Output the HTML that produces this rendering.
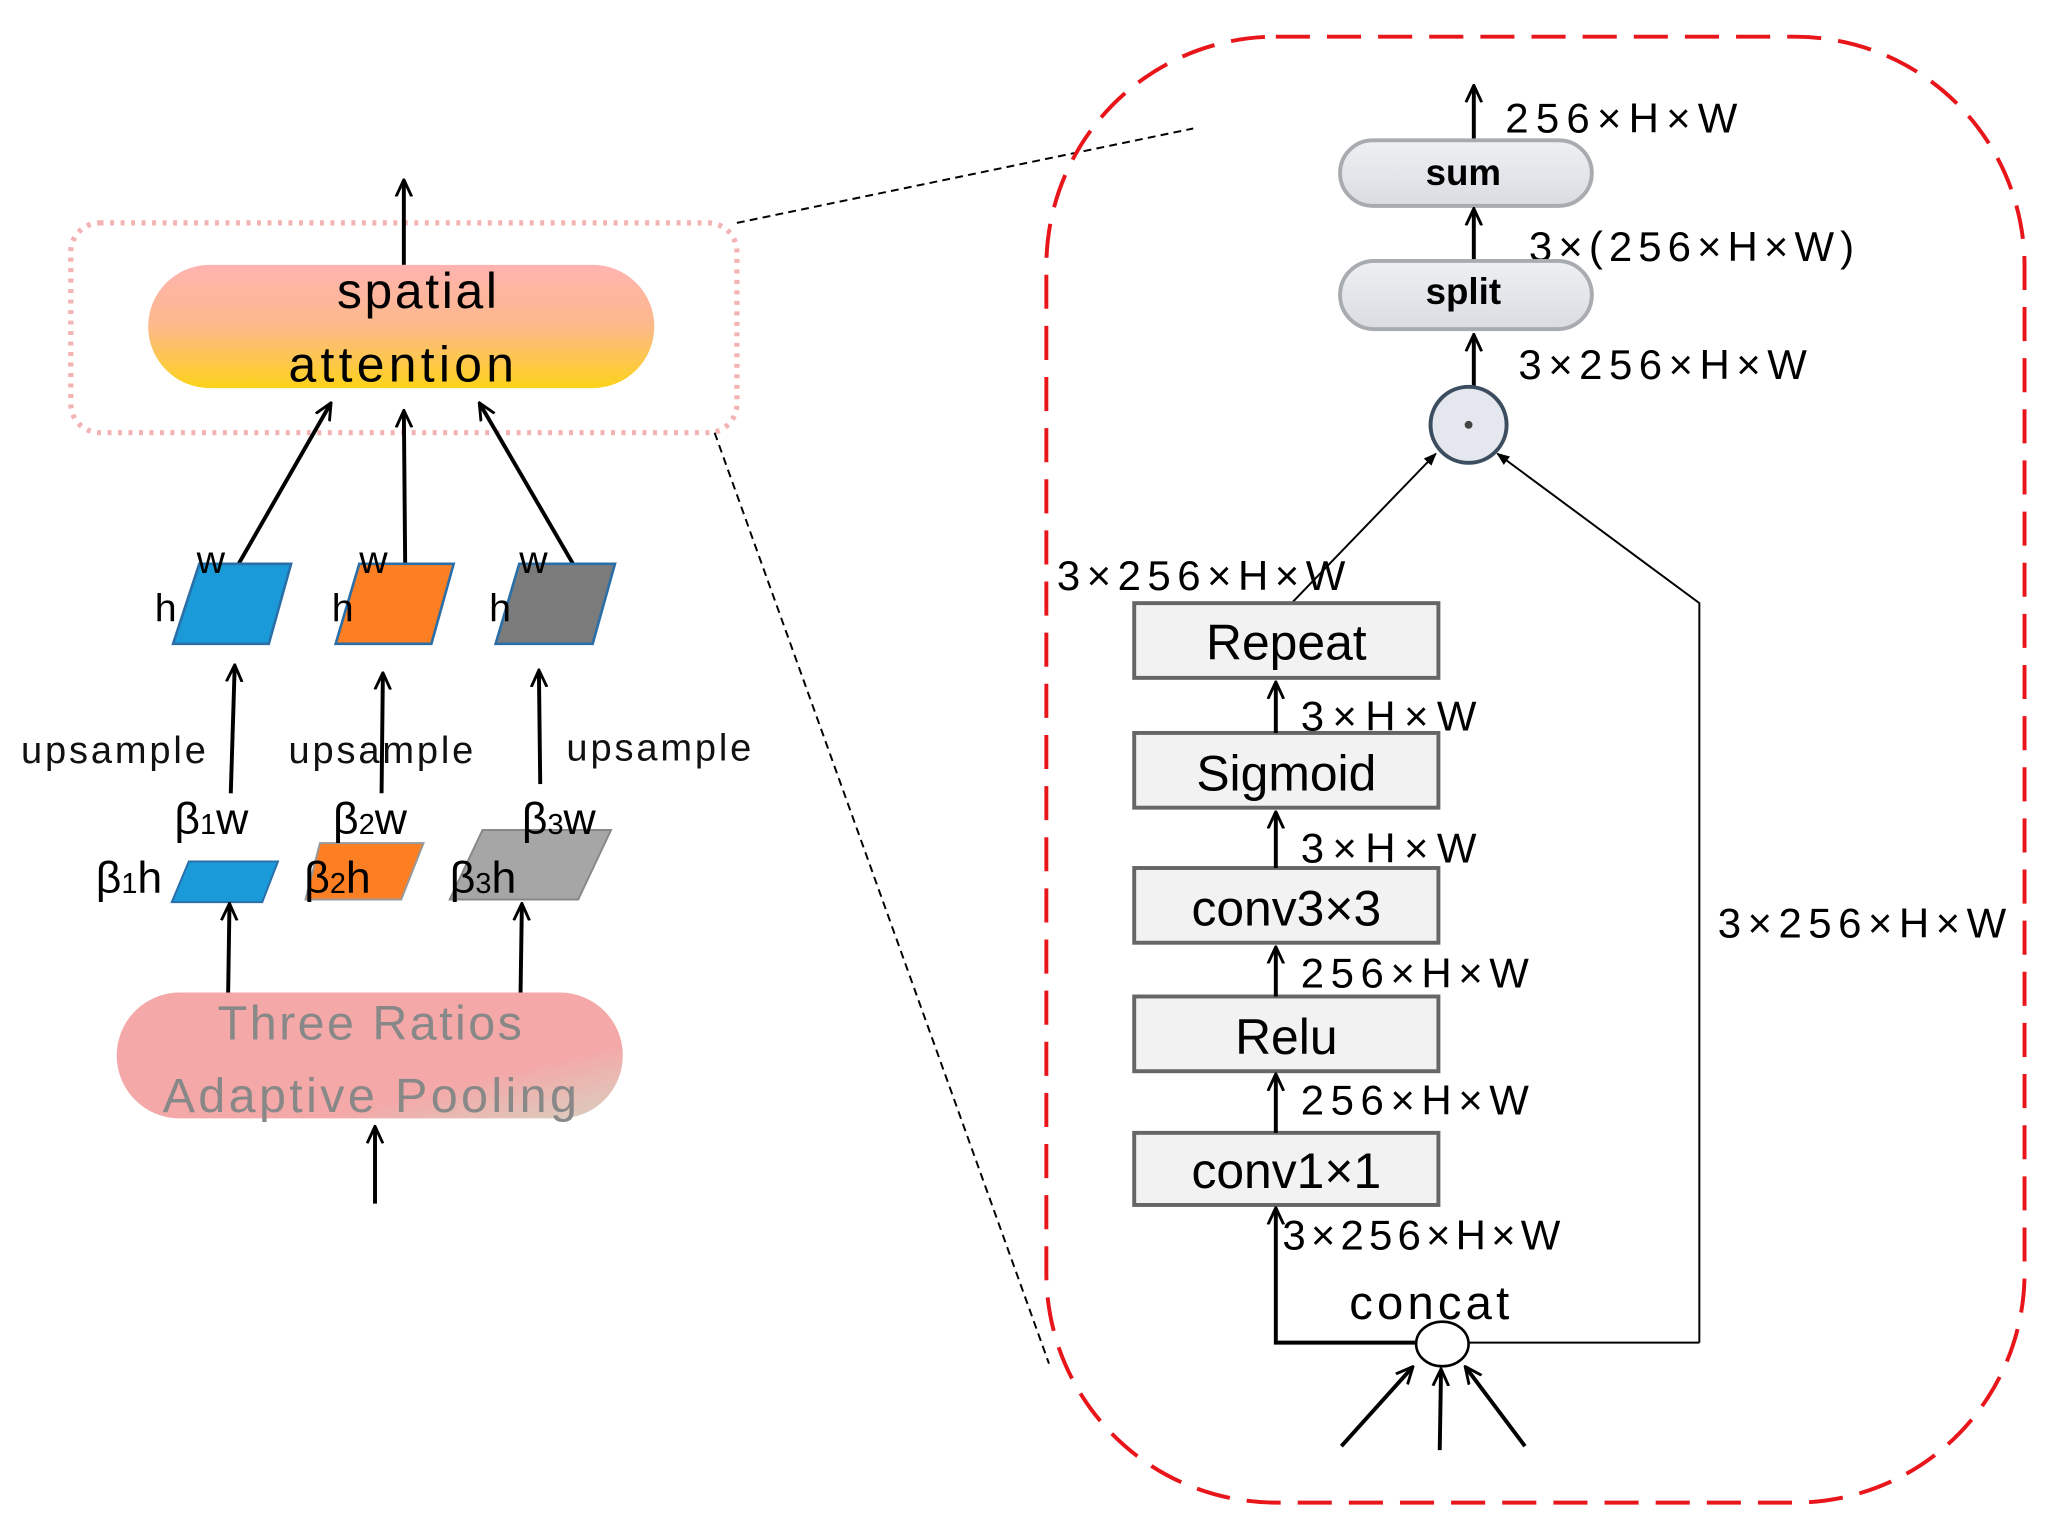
<!DOCTYPE html>
<html><head><style>html,body{margin:0;padding:0;background:#fff}svg{display:block}text{font-family:"Liberation Sans","DejaVu Sans",sans-serif}</style></head>
<body>
<svg width="2056" height="1538" viewBox="0 0 1568 1173" preserveAspectRatio="none" xmlns="http://www.w3.org/2000/svg">
<defs>
<marker id="b" markerWidth="14" markerHeight="14" refX="12" refY="7" orient="auto" markerUnits="userSpaceOnUse" viewBox="0 0 14 14"><path d="M0,1 L13,7 L0,13" fill="none" stroke="#000" stroke-width="2.2"/></marker>
<marker id="f" markerWidth="10" markerHeight="10" refX="9" refY="5" orient="auto" markerUnits="userSpaceOnUse" viewBox="0 0 10 10"><path d="M0,1 L10,5 L0,9 Z" fill="#000"/></marker>
<linearGradient id="g1" x1="0" y1="0" x2="0" y2="1"><stop offset="0" stop-color="#ffb3b0"/><stop offset="0.5" stop-color="#fcb98a"/><stop offset="1" stop-color="#fdd21a"/></linearGradient>
<linearGradient id="g2" x1="0" y1="0" x2="1" y2="1"><stop offset="0.7" stop-color="#f4a8a8"/><stop offset="1" stop-color="#d9d0c0"/></linearGradient>
<linearGradient id="g3" x1="0" y1="0" x2="0" y2="1"><stop offset="0" stop-color="#eef0f3"/><stop offset="1" stop-color="#d9dce1"/></linearGradient>
</defs>
<!-- left -->
<rect x="54" y="170" width="508" height="160" rx="22" fill="none" stroke="#f4b2b2" stroke-width="4" stroke-dasharray="3,5"/>
<line x1="308" y1="202" x2="308" y2="138" stroke="#000" stroke-width="3" marker-end="url(#b)"/>
<rect x="113" y="202" width="386" height="94" rx="47" fill="url(#g1)"/>
<text x="318" y="235" font-size="38" text-anchor="middle" textLength="122">spatial</text>
<text x="306" y="291" font-size="38" text-anchor="middle" textLength="172">attention</text>
<line x1="182" y1="430" x2="252" y2="308" stroke="#000" stroke-width="3" marker-end="url(#b)"/>
<line x1="309" y1="430" x2="308" y2="314" stroke="#000" stroke-width="3" marker-end="url(#b)"/>
<line x1="437" y1="430" x2="366" y2="308" stroke="#000" stroke-width="3" marker-end="url(#b)"/>
<polygon points="152,430 222,430 205,491 132,491" fill="#1a9ad8" stroke="#2a6fa8" stroke-width="2"/>
<polygon points="274,430 346,430 329,491 256,491" fill="#fc7f23" stroke="#2a6fa8" stroke-width="2"/>
<polygon points="396,430 469,430 452,491 378,491" fill="#7b7b7b" stroke="#2a6fa8" stroke-width="2"/>
<g font-size="30"><text x="150" y="437">w</text><text x="118" y="474">h</text><text x="274" y="437">w</text><text x="253" y="474">h</text><text x="396" y="437">w</text><text x="373" y="474">h</text></g>
<line x1="176" y1="605" x2="179" y2="508" stroke="#000" stroke-width="3" marker-end="url(#b)"/>
<line x1="291" y1="605" x2="292" y2="514" stroke="#000" stroke-width="3" marker-end="url(#b)"/>
<line x1="412" y1="598" x2="411" y2="512" stroke="#000" stroke-width="3" marker-end="url(#b)"/>
<g font-size="29" fill="#111"><text x="16" y="582" textLength="141">upsample</text><text x="220" y="582" textLength="141">upsample</text><text x="432" y="580" textLength="141">upsample</text></g>
<polygon points="144,657 212,657 200,688 131,688" fill="#1a9ad8" stroke="#2a6fa8" stroke-width="1.5"/>
<polygon points="244,643 323,643 306,686 233,686" fill="#fc7f23" stroke="#999" stroke-width="1.5"/>
<polygon points="368,633 466,633 441,686 343,686" fill="#a6a6a6" stroke="#888" stroke-width="1.5"/>
<g font-size="34"><text x="133" y="636">β<tspan font-size="22">1</tspan>w</text><text x="73" y="681">β<tspan font-size="22">1</tspan>h</text>
<text x="254" y="636">β<tspan font-size="22">2</tspan>w</text><text x="232" y="681">β<tspan font-size="22">2</tspan>h</text>
<text x="398" y="636">β<tspan font-size="22">3</tspan>w</text><text x="343" y="681">β<tspan font-size="22">3</tspan>h</text></g>
<line x1="174" y1="757" x2="175" y2="690" stroke="#000" stroke-width="3" marker-end="url(#b)"/>
<line x1="397" y1="757" x2="398" y2="690" stroke="#000" stroke-width="3" marker-end="url(#b)"/>
<rect x="89" y="757" width="386" height="96" rx="48" fill="url(#g2)"/>
<text x="282" y="793" font-size="37" fill="#888" text-anchor="middle" textLength="232">Three Ratios</text>
<text x="282" y="848" font-size="37" fill="#888" text-anchor="middle" textLength="316">Adaptive Pooling</text>
<line x1="286" y1="918" x2="286" y2="860" stroke="#000" stroke-width="3" marker-end="url(#b)"/>
<!-- dashed zoom lines -->
<line x1="562" y1="170" x2="910" y2="98" stroke="#000" stroke-width="1.5" stroke-dasharray="6,4"/>
<line x1="545" y1="330" x2="800" y2="1040" stroke="#000" stroke-width="1.5" stroke-dasharray="6,4"/>
<!-- right red box -->
<rect x="798" y="28" width="746" height="1118" rx="175" fill="none" stroke="#e8161b" stroke-width="3" stroke-dasharray="26,13"/>
<line x1="1124" y1="106" x2="1124" y2="66" stroke="#000" stroke-width="3" marker-end="url(#b)"/>
<text x="1148" y="101" font-size="32" textLength="177">256×H×W</text>
<rect x="1022" y="107" width="192" height="50" rx="25" fill="url(#g3)" stroke="#a8abb0" stroke-width="3"/>
<text x="1116" y="141" font-size="28" font-weight="bold" text-anchor="middle">sum</text>
<line x1="1124" y1="199" x2="1124" y2="160" stroke="#000" stroke-width="3" marker-end="url(#b)"/>
<text x="1166" y="199" font-size="32" textLength="248">3×(256×H×W)</text>
<rect x="1022" y="199" width="192" height="52" rx="26" fill="url(#g3)" stroke="#a8abb0" stroke-width="3"/>
<text x="1116" y="232" font-size="28" font-weight="bold" text-anchor="middle">split</text>
<line x1="1124" y1="297" x2="1124" y2="256" stroke="#000" stroke-width="3" marker-end="url(#b)"/>
<text x="1158" y="289" font-size="32" textLength="220">3×256×H×W</text>
<circle cx="1120" cy="324" r="29" fill="#e4e8ee" stroke="#3d4d60" stroke-width="3"/>
<circle cx="1120" cy="324" r="3" fill="#444"/>
<line x1="985" y1="460" x2="1095" y2="346" stroke="#000" stroke-width="1.5" marker-end="url(#f)"/>
<polyline points="1296,1024 1296,460 1142,346" fill="none" stroke="#000" stroke-width="1.5" marker-end="url(#f)"/>
<text x="806" y="450" font-size="32" textLength="220">3×256×H×W</text>
<text x="1310" y="715" font-size="32" textLength="220">3×256×H×W</text>
<g stroke="#666" stroke-width="3" fill="#f2f2f2">
<rect x="865" y="460" width="232" height="57"/><rect x="865" y="559" width="232" height="57"/><rect x="865" y="662" width="232" height="57"/><rect x="865" y="760" width="232" height="57"/><rect x="865" y="864" width="232" height="55"/></g>
<g font-size="38" text-anchor="middle"><text x="981" y="503">Repeat</text><text x="981" y="603">Sigmoid</text><text x="981" y="706">conv3×3</text><text x="981" y="804">Relu</text><text x="981" y="906">conv1×1</text></g>
<g stroke="#000" stroke-width="3"><line x1="973" y1="559" x2="973" y2="521" marker-end="url(#b)"/><line x1="973" y1="662" x2="973" y2="620" marker-end="url(#b)"/><line x1="973" y1="760" x2="973" y2="723" marker-end="url(#b)"/><line x1="973" y1="864" x2="973" y2="820" marker-end="url(#b)"/></g>
<g font-size="32"><text x="992" y="557" textLength="134">3×H×W</text><text x="992" y="658" textLength="134">3×H×W</text><text x="992" y="753" textLength="174">256×H×W</text><text x="992" y="850" textLength="174">256×H×W</text><text x="978" y="953" textLength="212">3×256×H×W</text></g>
<polyline points="1080,1024 973,1024 973,922" fill="none" stroke="#000" stroke-width="3" marker-end="url(#b)"/>
<line x1="1120" y1="1024" x2="1296" y2="1024" stroke="#000" stroke-width="1.5"/>
<text x="1090" y="1006" font-size="36" text-anchor="middle" textLength="122">concat</text>
<ellipse cx="1100" cy="1025" rx="20" ry="17" fill="#fff" stroke="#000" stroke-width="2"/>
<g stroke="#000" stroke-width="3"><line x1="1023" y1="1103" x2="1077" y2="1043" marker-end="url(#b)"/><line x1="1098" y1="1106" x2="1099" y2="1045" marker-end="url(#b)"/><line x1="1163" y1="1103" x2="1118" y2="1043" marker-end="url(#b)"/></g>
</svg>
</body></html>
